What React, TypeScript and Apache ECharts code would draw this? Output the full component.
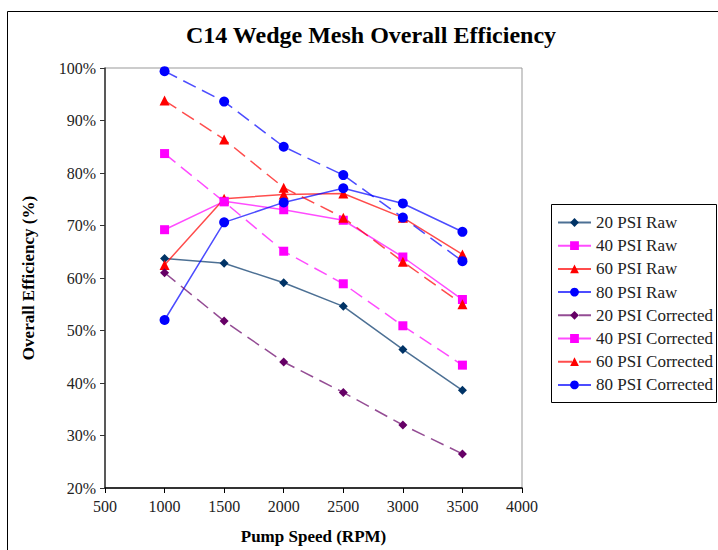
import React, { useEffect, useRef } from "react";
import * as echarts from "echarts";

const speeds = [1000, 1500, 2000, 2500, 3000, 3500];
const raw20 = [63.7, 62.8, 59.1, 54.6, 46.4, 38.6];
const raw40 = [69.2, 74.6, 73.0, 71.0, 64.0, 55.9];
const raw60 = [62.5, 75.1, 75.9, 76.1, 71.5, 64.5];
const raw80 = [52.0, 70.6, 74.4, 77.1, 74.2, 68.8];
const cor20 = [61.0, 51.8, 44.0, 38.2, 32.0, 26.5];
const cor40 = [83.7, 74.5, 65.1, 58.9, 50.9, 43.4];
const cor60 = [93.8, 86.4, 77.2, 71.5, 63.1, 55.0];
const cor80 = [99.4, 93.6, 85.0, 79.6, 71.5, 63.2];

const seriesNames = [
  "20 PSI Raw", "40 PSI Raw", "60 PSI Raw", "80 PSI Raw",
  "20 PSI Corrected", "40 PSI Corrected", "60 PSI Corrected", "80 PSI Corrected",
];
const seriesValues = [raw20, raw40, raw60, raw80, cor20, cor40, cor60, cor80];
const seriesColors = ["#003366", "#ff00ff", "#ff0000", "#0000ff", "#660066", "#ff00ff", "#ff0000", "#0000ff"];
const seriesSymbols = ["diamond", "rect", "triangle", "circle", "diamond", "rect", "triangle", "circle"];
const symbolSizes = [9, 9, 10, 10, 9, 9, 10, 10];

const FONT = "Liberation Serif";

export default function App() {
  const ref = useRef<HTMLDivElement>(null);
  useEffect(() => {
    if (!ref.current) return;
    const chart = echarts.init(ref.current, null, { renderer: "svg" });
    const series = seriesNames.map((name, k) => ({
      name,
      type: "line",
      data: speeds.map((s, i) => [s, seriesValues[k][i]]),
      symbol: seriesSymbols[k],
      symbolSize: symbolSizes[k],
      itemStyle: { color: seriesColors[k], opacity: 1 },
      lineStyle: {
        color: seriesColors[k],
        width: 1.5,
        opacity: 0.7,
        type: k >= 4 ? [14, 7] : "solid",
      },
      emphasis: { disabled: true },
    }));
    chart.setOption({
      animation: false,
      backgroundColor: "#ffffff",
      textStyle: { fontFamily: FONT },
      title: {
        text: "C14 Wedge Mesh Overall Efficiency",
        left: 366,
        textAlign: "center",
        top: 18,
        textStyle: { fontFamily: FONT, fontSize: 24, fontWeight: "bold", color: "#000" },
      },
      graphic: [
        { type: "rect", shape: { x: 7.5, y: 11.5, width: 800, height: 600 }, style: { fill: "none", stroke: "#000", lineWidth: 1 }, silent: true },
        { type: "rect", shape: { x: 551.5, y: 204.5, width: 165, height: 198 }, style: { fill: "none", stroke: "#000", lineWidth: 1 }, silent: true },
      ],
      legend: {
        orient: "vertical",
        left: 557,
        top: 214,
        padding: 0,
        itemWidth: 33,
        itemHeight: 11,
        itemGap: 6.2,
        data: seriesNames,
        textStyle: { fontFamily: FONT, fontSize: 17, color: "#222" },
      },
      grid: {
        left: 105,
        right: 196,
        top: 68,
        bottom: 61,
        show: true,
        borderColor: "#999",
        borderWidth: 1,
      },
      xAxis: {
        type: "value",
        min: 500,
        max: 4000,
        interval: 500,
        name: "Pump Speed (RPM)",
        nameLocation: "middle",
        nameGap: 40,
        nameTextStyle: { fontFamily: FONT, fontSize: 17, fontWeight: "bold", color: "#000" },
        axisLine: { show: true, lineStyle: { color: "#000", width: 1.5 } },
        axisTick: { show: true, inside: false, length: 5, lineStyle: { color: "#000" } },
        axisLabel: { margin: 10, fontFamily: FONT, fontSize: 16, color: "#222", formatter: (v: number) => String(v) },
        splitLine: { show: false },
      },
      yAxis: {
        type: "value",
        min: 20,
        max: 100,
        interval: 10,
        name: "Overall Efficiency (%)",
        nameLocation: "middle",
        nameRotate: 90,
        nameGap: 68,
        nameTextStyle: { fontFamily: FONT, fontSize: 17, fontWeight: "bold", color: "#000" },
        axisLine: { show: true, lineStyle: { color: "#333", width: 1.5 } },
        axisTick: { show: true, inside: false, length: 5, lineStyle: { color: "#333" } },
        axisLabel: { margin: 9, fontFamily: FONT, fontSize: 16, color: "#222", formatter: (v: number) => v + "%" },
        splitLine: { show: false },
      },
      series,
    });
    return () => chart.dispose();
  }, []);
  return <div ref={ref} style={{ position: "fixed", left: 0, top: 0, width: 718, height: 550 }} />;
}
